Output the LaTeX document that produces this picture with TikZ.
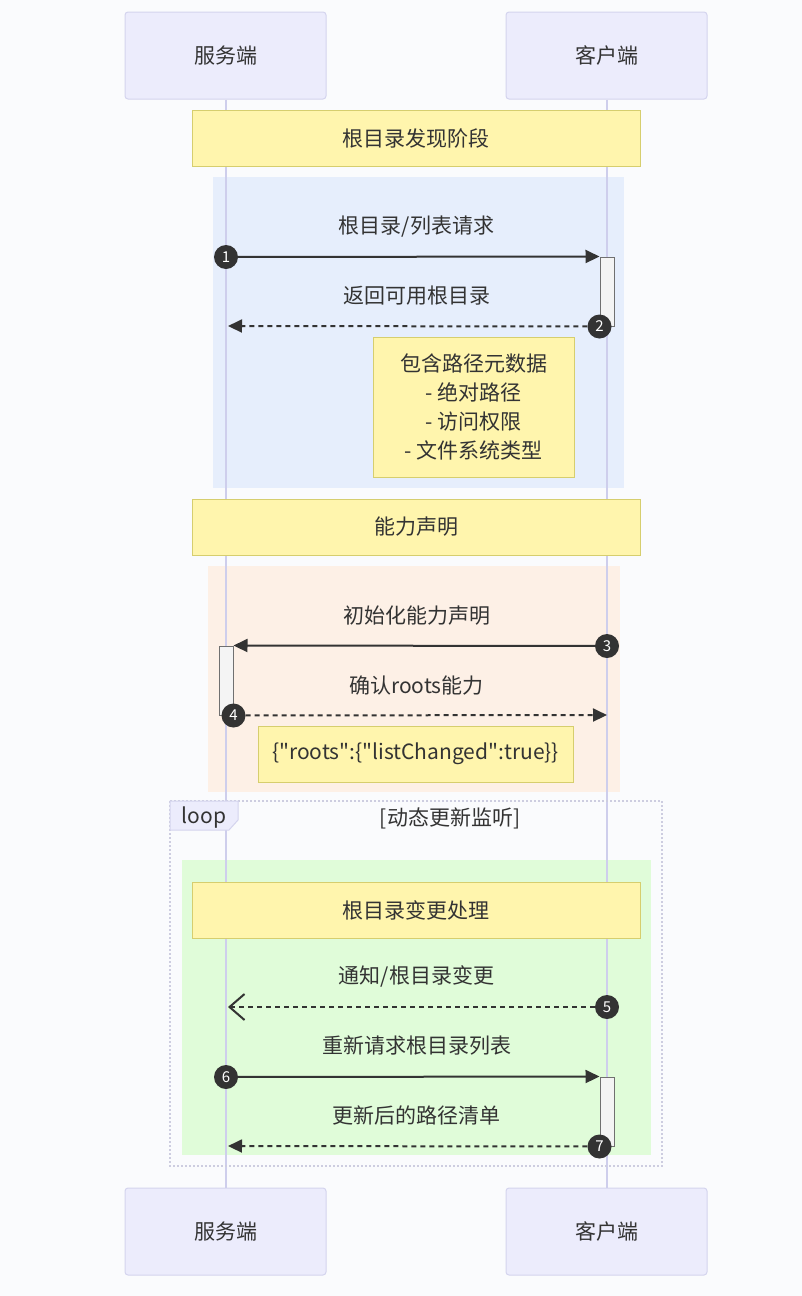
\documentclass[tikz,border=0pt]{standalone}
\usepackage{fontspec}
\newfontfamily\cjk{Noto Sans CJK SC}
\usetikzlibrary{arrows.meta}
\definecolor{bgfill}{RGB}{250,251,253}
\definecolor{actorfill}{RGB}{236,236,252}
\definecolor{actorline}{RGB}{212,212,238}
\definecolor{lifeline}{RGB}{206,206,236}
\definecolor{notefill}{RGB}{255,245,173}
\definecolor{noteline}{RGB}{214,206,110}
\definecolor{ink}{RGB}{51,51,51}
\definecolor{actfill}{RGB}{244,244,244}
\definecolor{actline}{RGB}{112,112,112}
\definecolor{bluebg}{RGB}{230,238,252}
\definecolor{orangebg}{RGB}{253,240,230}
\definecolor{greenbg}{RGB}{224,252,217}
\definecolor{loopline}{RGB}{205,205,224}

\begin{document}
\begin{tikzpicture}[x=1pt,y=-1pt,>={Triangle[length=14pt,width=13pt]},
                    font=\cjk\fontsize{21}{29}\selectfont,text=ink]
  \tikzstyle{actor}=[rectangle,rounded corners=3pt,draw=actorline,fill=actorfill,line width=1pt,minimum width=201pt,minimum height=87pt]
  \tikzstyle{note}=[rectangle,draw=noteline,fill=notefill,line width=1pt,align=center,inner sep=0pt,minimum height=56pt]
  \tikzstyle{act}=[rectangle,draw=actline,fill=actfill,line width=1pt,minimum width=14pt,minimum height=69pt,inner sep=0pt]
  \tikzstyle{num}=[circle,fill=ink,text=white,minimum size=24pt,inner sep=0pt,font=\cjk\fontsize{15}{15}\selectfont]
  \tikzstyle{msg}=[->,line width=2pt,draw=ink]
  \tikzstyle{reply}=[msg,dash pattern=on 5pt off 4pt]
  \tikzstyle{life}=[line width=2pt,draw=lifeline]

  \useasboundingbox[fill=bgfill] (0,0) rectangle (802,1296);

  % rect backgrounds
  \fill[bluebg] (213,177) rectangle (624,488);
  \fill[orangebg] (208,566) rectangle (620,792);
  \fill[greenbg] (182,860) rectangle (651,1155);

  \node[actor] (s0) at (225.5,55.5)   {服务端};
  \node[actor] (k0) at (606.5,55.5)   {客户端};
  \node[actor] (s1) at (225.5,1231.5) {服务端};
  \node[actor] (k1) at (606.5,1231.5) {客户端};
  \draw[life] (s0) -- (s1);
  \draw[life] (k0) -- (k1);

  % loop frame
  \draw[loopline,line width=2pt,dash pattern=on 2pt off 2pt] (170,801) rectangle (662,1166);
  \filldraw[fill=actorfill,draw=actorline,line width=1pt] (170,801) -- (238,801) -- (238,820) -- (229,830) -- (170,830) -- cycle;
  \node (lp) at (204,818) {loop};
  \node (lc) at (450,818) {[动态更新监听]};

  \node[note,minimum width=448pt] (n1) at (416,138) {根目录发现阶段};
  \node[note,minimum width=201pt,minimum height=140pt] (n2) at (473.5,407)
       {包含路径元数据\\- 绝对路径\\- 访问权限\\- 文件系统类型};
  \node[note,minimum width=448pt] (n3) at (416,527) {能力声明};
  \node[note,minimum width=315pt] (n4) at (415.5,754) {\{"roots":\{"listChanged":true\}\}};
  \node[note,minimum width=448pt] (n5) at (416,910) {根目录变更处理};

  \node[act] (a1) at (607,291.5)  {};
  \node[act] (a2) at (226,680.5)  {};
  \node[act] (a3) at (607,1111.5) {};

  \node[num] (c1) at (226,257)          {1};
  \node[num] (c2) at (a1.south west)    {2};
  \node[num] (c3) at (607,646)          {3};
  \node[num] (c4) at (a2.south east)    {4};
  \node[num] (c5) at (607,1007)         {5};
  \node[num] (c6) at (226,1077)         {6};
  \node[num] (c7) at (a3.south west)    {7};

  \coordinate (e2) at (228,326);
  \coordinate (e4) at (607,715);
  \coordinate (e5) at (228,1007);
  \coordinate (e7) at (228,1146);

  \node (t1) at (416.5,227)  {根目录/列表请求};
  \node (t2) at (416.5,296)  {返回可用根目录};
  \node (t3) at (416.5,616)  {初始化能力声明};
  \node (t4) at (416.5,686)  {确认roots能力};
  \node (t5) at (416.5,976)  {通知/根目录变更};
  \node (t6) at (416.5,1046) {重新请求根目录列表};
  \node (t7) at (416.5,1115) {更新后的路径清单};

  \path (c1) edge[msg]   (a1.north west)
        (c2) edge[reply] (e2)
        (c3) edge[msg]   (a2.north east)
        (c4) edge[reply] (e4)
        (c5) edge[reply,-{Straight Barb[length=15pt,width=26pt]}] (e5)
        (c6) edge[msg]   (a3.north west)
        (c7) edge[reply] (e7);

\end{tikzpicture}
\end{document}
